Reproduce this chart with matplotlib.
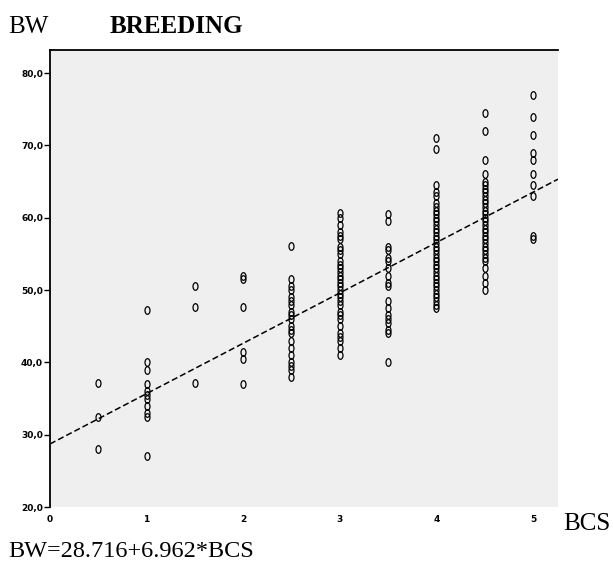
import matplotlib
matplotlib.use("Agg")
import matplotlib.pyplot as plt
from matplotlib.path import Path
from matplotlib.transforms import Affine2D
import numpy as np

# ---- data ----
bcs_levels = [0.5, 1.0, 1.5, 2.0, 2.5, 3.0, 3.5, 4.0, 4.5, 5.0]
bw_by_level = [
    [37.1, 32.4, 28.0],
    [47.2, 40.0, 39.0, 37.0, 36.0, 35.5, 35.0, 34.0, 33.0, 32.5, 27.0],
    [50.5, 47.6, 37.2],
    [52.0, 51.5, 47.6, 41.5, 40.5, 37.0],
    [56.1, 51.5, 50.5, 50.0, 49.0, 48.5, 48.0, 47.0, 46.5, 46.0, 45.0, 44.5,
     44.0, 43.0, 42.0, 41.0, 40.0, 39.5, 39.0, 38.0],
    [60.6, 60.0, 59.0, 58.0, 57.5, 57.0, 56.0, 55.5, 55.0, 54.0, 53.5, 53.0,
     52.5, 52.0, 51.5, 51.0, 50.5, 50.0, 49.5, 49.0, 48.5, 48.0, 47.0, 46.5,
     46.0, 45.0, 44.0, 43.5, 43.0, 42.0, 41.0],
    [60.5, 59.5, 56.0, 55.5, 54.5, 54.0, 53.0, 52.0, 51.0, 50.5, 48.5, 47.5,
     46.5, 46.0, 45.5, 44.5, 44.0, 40.0],
    [71.0, 69.5, 64.5, 63.5, 63.0, 62.0, 61.5, 61.0, 60.5, 60.0, 59.5, 59.0,
     58.5, 58.0, 57.5, 57.0, 56.5, 56.0, 55.5, 55.0, 54.5, 54.0, 53.5, 53.0,
     52.5, 52.0, 51.5, 51.0, 50.5, 50.0, 49.5, 49.0, 48.5, 48.0, 47.5],
    [74.5, 72.0, 68.0, 66.0, 65.0, 64.5, 64.0, 63.5, 63.0, 62.5, 62.0, 61.5,
     61.0, 60.5, 60.0, 59.5, 59.0, 58.5, 58.0, 57.5, 57.0, 56.5, 56.0, 55.5,
     55.0, 54.5, 54.0, 53.0, 52.0, 51.0, 50.0],
    [77.0, 74.0, 71.5, 69.0, 68.0, 66.0, 64.5, 63.0, 57.5, 57.0],
]
intercept = 28.716
slope = 6.962
x_ticks = [0, 1, 2, 3, 4, 5]
x_tick_labels = ["0", "1", "2", "3", "4", "5"]
y_ticks = [20, 30, 40, 50, 60, 70, 80]
y_tick_labels = ["20,0", "30,0", "40,0", "50,0", "60,0", "70,0", "80,0"]

W, H = 613, 563
fig = plt.figure(figsize=(W / 100, H / 100), dpi=100)
fig.patch.set_facecolor("white")

left, right, top, bottom = 50, 558, 50, 507
ax = fig.add_axes([left / W, 1 - bottom / H, (right - left) / W, (bottom - top) / H])
ax.set_facecolor("#efefef")
ax.set_xlim(0, 5.26)
ax.set_ylim(20, 83.2)

# tall narrow open marker (like the SPSS "o" glyph)
circ = Path.unit_circle()
oval = Path(Affine2D().scale(0.65, 1.0).transform(circ.vertices), circ.codes)

xs = np.concatenate([[lv] * len(v) for lv, v in zip(bcs_levels, bw_by_level)])
ys = np.concatenate(bw_by_level)
ax.plot(xs, ys, linestyle="none", marker=oval, markersize=5.5,
        markerfacecolor="none", markeredgecolor="black", markeredgewidth=0.9)

xl = np.array(ax.get_xlim())
ax.plot(xl, intercept + slope * xl, color="black", linestyle=(0, (4, 2)), linewidth=1.1)

for s in ["right", "bottom"]:
    ax.spines[s].set_visible(False)
for s in ["left", "top"]:
    ax.spines[s].set_linewidth(1.3)
    ax.spines[s].set_color("black")

ax.set_xticks(x_ticks)
ax.set_xticklabels(x_tick_labels, fontsize=6.5, fontweight="bold")
ax.set_yticks(y_ticks)
ax.set_yticklabels(y_tick_labels, fontsize=6.5, fontweight="bold")
ax.tick_params(axis="x", length=0, pad=6)
ax.tick_params(axis="y", length=4, width=1.0, pad=1)

serif = "Liberation Serif"
fig.text(8 / W, 1 - 33 / H, "BW", fontsize=18, family=serif, va="baseline", ha="left")
fig.text(110 / W, 1 - 33 / H, "BREEDING", fontsize=18, family=serif,
         fontweight="bold", va="baseline", ha="left")
fig.text(563 / W, 1 - 530 / H, "BCS", fontsize=18, family=serif, va="baseline", ha="left")
fig.text(8 / W, 1 - 557 / H, "BW=28.716+6.962*BCS", fontsize=17.5, family=serif,
         va="baseline", ha="left")

fig.savefig("out.png", dpi=100)
